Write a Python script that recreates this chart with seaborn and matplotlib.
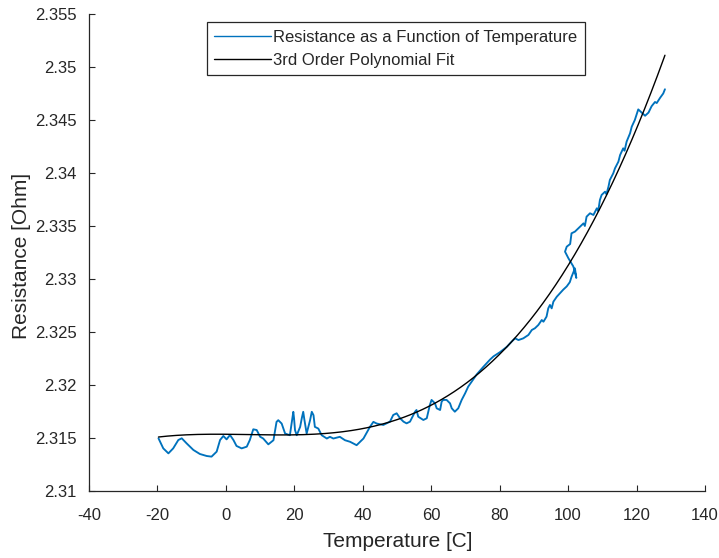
import numpy as np
import pandas as pd
import seaborn as sns
import matplotlib
matplotlib.use("Agg")
import matplotlib.pyplot as plt

# Measured resistance of the sample while it was heated (in acquisition order)
temperature = [
    -19.7, -18.3, -16.8, -15.4, -13.9, -12.9, -11.5, -9.5, -7.6, -5.6,
    -4.2, -2.7, -1.7, -0.75, 0.2, 1.2, 2.2, 3.1, 4.6, 6.1,
    7.0, 8.0, 9.0, 10.0, 10.9, 12.4, 13.9, 14.8, 15.3, 16.3,
    17.3, 18.7, 19.2, 19.5, 19.7, 19.9, 20.2, 20.7, 21.7, 22.2,
    22.6, 22.9, 23.6, 24.6, 25.1, 25.6, 26.0, 27.0, 28.0, 29.5,
    30.4, 31.4, 33.3, 34.8, 36.3, 38.2, 40.2, 42.1, 43.1, 44.1,
    46.0, 47.95, 48.9, 49.9, 50.9, 51.9, 52.8, 53.8, 55.3, 55.7,
    56.2, 57.7, 58.7, 59.6, 60.1, 61.1, 61.6, 62.6, 63.05, 63.5,
    64.5, 65.5, 66.0, 66.9, 67.9, 68.9, 69.9, 70.8, 71.8, 73.3,
    75.2, 77.2, 78.2, 80.1, 82.1, 83.5, 84.5, 85.5, 86.9, 88.4,
    89.4, 90.3, 91.3, 92.3, 92.8, 93.7, 94.2, 94.7, 95.2, 95.7,
    96.7, 97.6, 98.6, 99.6, 100.5, 101.0, 101.5, 102.0, 102.4, 101.9,
    101.5, 100.1, 99.1, 99.6, 100.6, 101.0, 102.0, 103.0, 104.5, 104.9,
    105.4, 106.4, 107.4, 108.4, 108.8, 109.3, 109.8, 110.8, 111.2, 111.8,
    112.2, 113.2, 113.7, 114.7, 115.2, 116.1, 116.5, 117.1, 118.1, 118.6,
    119.5, 120.0, 120.5, 121.5, 122.5, 123.5, 124.4, 125.4, 125.9, 126.9,
    127.8, 128.3,
]
resistance = [
    2.31497, 2.31402, 2.31355, 2.31402, 2.31481, 2.31497, 2.31450, 2.31387, 2.31349, 2.31330,
    2.31324, 2.31371, 2.31481, 2.31519, 2.31487, 2.31528, 2.31481, 2.31425, 2.31402, 2.31418,
    2.31481, 2.31582, 2.31575, 2.31512, 2.31495, 2.31440, 2.31479, 2.31652, 2.31668, 2.31636,
    2.31542, 2.31526, 2.31636, 2.31700, 2.31747, 2.31690, 2.31574, 2.31526, 2.31605, 2.31690,
    2.31747, 2.31680, 2.31542, 2.31668, 2.31747, 2.31715, 2.31605, 2.31589, 2.31526, 2.31495,
    2.31511, 2.31495, 2.31511, 2.31479, 2.31464, 2.31432, 2.31495, 2.31605, 2.31652, 2.31636,
    2.31623, 2.31654, 2.31717, 2.31733, 2.31686, 2.31654, 2.31638, 2.31654, 2.31749, 2.31764,
    2.31701, 2.31670, 2.31686, 2.31811, 2.31859, 2.31827, 2.31780, 2.31764, 2.31843, 2.31859,
    2.31859, 2.31827, 2.31780, 2.31748, 2.31780, 2.31859, 2.31921, 2.31984, 2.32030, 2.32100,
    2.32170, 2.32240, 2.32270, 2.32310, 2.32360, 2.32409, 2.32440, 2.32424, 2.32440, 2.32472,
    2.32519, 2.32535, 2.32566, 2.32613, 2.32597, 2.32645, 2.32723, 2.32755, 2.32723, 2.32786,
    2.32833, 2.32865, 2.32900, 2.32930, 2.32970, 2.33020, 2.33060, 2.33100, 2.33010, 2.33080,
    2.33120, 2.33195, 2.33258, 2.33305, 2.33330, 2.33431, 2.33447, 2.33478, 2.33525, 2.33500,
    2.33588, 2.33620, 2.33604, 2.33667, 2.33640, 2.33746, 2.33793, 2.33824, 2.33800, 2.33871,
    2.33934, 2.33997, 2.34044, 2.34107, 2.34170, 2.34233, 2.34210, 2.34296, 2.34374, 2.34437,
    2.34500, 2.34550, 2.34600, 2.34570, 2.34540, 2.34570, 2.34630, 2.34670, 2.34660, 2.34710,
    2.34750, 2.34790,
]

# Cubic R(T) = a*T^3 + b*T^2 + c*T + d
fit_coeffs = [2.02872e-8, -4.0944e-7, -2.706e-6, 2.3153519]

x_ticks = [-40, -20, 0, 20, 40, 60, 80, 100, 120, 140]
y_ticks = [2.31, 2.315, 2.32, 2.325, 2.33, 2.335, 2.34, 2.345, 2.35, 2.355]
y_tick_labels = ["2.31", "2.315", "2.32", "2.325", "2.33", "2.335",
                 "2.34", "2.345", "2.35", "2.355"]

data_label = "Resistance as a Function of Temperature"
fit_label = "3rd Order Polynomial Fit"

sns.set_theme(style="ticks")
plt.rcParams["font.family"] = ["Liberation Sans", "DejaVu Sans"]
text_color = "#262626"

fig = plt.figure(figsize=(7.19, 5.58), dpi=100)
ax = fig.add_axes([0.1238, 0.1201, 0.8567, 0.8548])

df = pd.DataFrame({"Temperature": temperature, "Resistance": resistance})
sns.lineplot(data=df, x="Temperature", y="Resistance", sort=False,
             estimator=None, color="#0072BD", linewidth=1.35,
             label=data_label, ax=ax)

t_fit = np.linspace(min(temperature), max(temperature), 400)
r_fit = np.polyval(fit_coeffs, t_fit)
sns.lineplot(x=t_fit, y=r_fit, sort=False, estimator=None, color="black",
             linewidth=1.0, label=fit_label, ax=ax)

ax.set_xlim(-40, 140)
ax.set_ylim(2.31, 2.355)
ax.set_xticks(x_ticks)
ax.set_xticklabels([str(v) for v in x_ticks])
ax.set_yticks(y_ticks)
ax.set_yticklabels(y_tick_labels)

for side in ("top", "right"):
    ax.spines[side].set_visible(False)
for side in ("left", "bottom"):
    ax.spines[side].set_color(text_color)
    ax.spines[side].set_linewidth(0.9)

ax.tick_params(direction="in", length=4.5, width=0.8, colors=text_color,
               labelsize=12)
ax.tick_params(axis="x", pad=12)
ax.tick_params(axis="y", pad=9)

ax.set_xlabel("Temperature [C]", fontsize=15, color=text_color)
ax.set_ylabel("Resistance [Ohm]", fontsize=15, color=text_color)
ax.xaxis.set_label_coords(0.502, -0.086)
ax.yaxis.set_label_coords(-0.094, 0.493)

leg = ax.legend(loc="upper center", bbox_to_anchor=(0.498, 0.983),
                fontsize=12, frameon=True, fancybox=False, framealpha=1,
                handlelength=3.4, handletextpad=0.15, borderpad=0.45,
                labelspacing=0.5, borderaxespad=0)
leg.get_frame().set_edgecolor(text_color)
leg.get_frame().set_linewidth(0.9)
for handle in leg.get_lines():
    handle.set_linewidth(1.0)
for txt in leg.get_texts():
    txt.set_color(text_color)

fig.savefig("out.png", dpi=100)
